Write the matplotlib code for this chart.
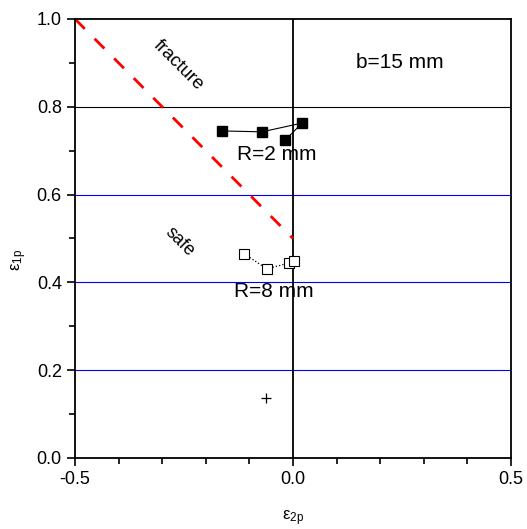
import matplotlib
matplotlib.use("Agg")
import matplotlib.pyplot as plt
from matplotlib.ticker import MultipleLocator

plt.rcParams['font.family'] = ['Liberation Sans', 'DejaVu Sans']

# Data
r2_x = [-0.163, -0.071, 0.021, -0.018]
r2_y = [0.745, 0.743, 0.763, 0.724]
r8_x = [-0.112, -0.060, -0.009, 0.002]
r8_y = [0.465, 0.431, 0.444, 0.449]
plus_x = [-0.062]
plus_y = [0.137]
fracture_x = [-0.5, 0.0]
fracture_y = [1.0, 0.5]
blue_levels = [0.6, 0.4, 0.2]
black_level = 0.8

fig = plt.figure(figsize=(5.27, 5.29), dpi=100)
ax = fig.add_axes([75/527, 1 - 458/529, (511-75)/527, (458-19)/529])
ax.set_xlim(-0.5, 0.5)
ax.set_ylim(0.0, 1.0)

for lv in blue_levels:
    ax.axhline(lv, color='#0000ff', lw=0.8, zorder=1)
ax.axhline(black_level, color='black', lw=0.8, zorder=1)
ax.axvline(0.0, color='black', lw=1.3, zorder=1)

ax.plot(fracture_x, fracture_y, color='red', lw=2, dashes=(5, 5), zorder=2)

ax.plot(r2_x, r2_y, '-', color='black', lw=0.8, marker='s', ms=6.5,
        mfc='black', mec='black', zorder=3)
ax.plot(r8_x, r8_y, ':', color='black', lw=0.9, marker='s', ms=6.5,
        mfc='white', mec='black', mew=0.8, zorder=3)
ax.plot(plus_x, plus_y, '+', color='black', ms=7, mew=0.9, zorder=3)

ax.text(-0.264, 0.895, 'fracture', rotation=-45, ha='center', va='center', fontsize=13.5)
ax.text(-0.261, 0.492, 'safe', rotation=-45, ha='center', va='center', fontsize=13)
ax.text(0.245, 0.902, 'b=15 mm', ha='center', va='center', fontsize=15)
ax.text(-0.037, 0.692, 'R=2 mm', ha='center', va='center', fontsize=15)
ax.text(-0.044, 0.380, 'R=8 mm', ha='center', va='center', fontsize=15)

ax.xaxis.set_major_locator(MultipleLocator(0.5))
ax.xaxis.set_minor_locator(MultipleLocator(0.1))
ax.yaxis.set_major_locator(MultipleLocator(0.2))
ax.yaxis.set_minor_locator(MultipleLocator(0.1))
ax.tick_params(which='both', direction='out', width=1.2, labelsize=13)
ax.tick_params(which='major', length=6)
ax.tick_params(which='minor', length=4)
ax.xaxis.set_major_formatter(plt.FormatStrFormatter('%.1f'))
ax.yaxis.set_major_formatter(plt.FormatStrFormatter('%.1f'))
for s in ax.spines.values():
    s.set_linewidth(1.3)

ax.set_xlabel(r'$\mathregular{\varepsilon_{2p}}$', fontsize=12)
ax.xaxis.set_label_coords(0.5, -0.115)
ax.set_ylabel(r'$\mathregular{\varepsilon_{1p}}$', fontsize=12)
ax.yaxis.set_label_coords(-0.105, 0.45)

fig.savefig('out.png', dpi=100)
